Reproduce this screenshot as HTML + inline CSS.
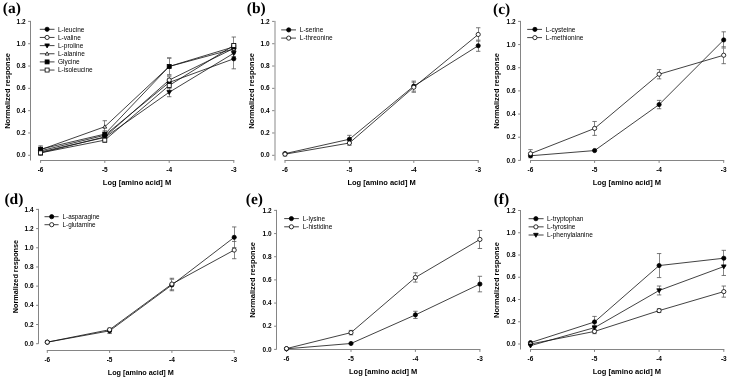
<!DOCTYPE html>
<html><head><meta charset="utf-8"><style>
html,body{margin:0;padding:0;background:#fff;width:729px;height:378px;overflow:hidden}
svg{display:block;will-change:transform}
text{font-family:'Liberation Sans', sans-serif}
.tk{font-size:6.5px;font-weight:bold}
.lg{font-size:6.5px}
.xl{font-size:7.5px;font-weight:bold}
.pl{font-family:'Liberation Serif', serif;font-size:15.5px;font-weight:bold;text-rendering:geometricPrecision}
</style></head><body>
<svg width="729" height="378" viewBox="0 0 729 378">
<rect width="729" height="378" fill="#fff"/>
<g id="pa"><line x1="30.5" y1="20.90" x2="30.5" y2="160.50" stroke="#858585" stroke-width="1"/><line x1="28.10" y1="155.30" x2="30.5" y2="155.30" stroke="#858585" stroke-width="1"/><text class="tk" x="25.60" y="157.40" text-anchor="end">0.0</text><line x1="28.10" y1="132.98" x2="30.5" y2="132.98" stroke="#858585" stroke-width="1"/><text class="tk" x="25.60" y="135.08" text-anchor="end">0.2</text><line x1="28.10" y1="110.67" x2="30.5" y2="110.67" stroke="#858585" stroke-width="1"/><text class="tk" x="25.60" y="112.77" text-anchor="end">0.4</text><line x1="28.10" y1="88.35" x2="30.5" y2="88.35" stroke="#858585" stroke-width="1"/><text class="tk" x="25.60" y="90.45" text-anchor="end">0.6</text><line x1="28.10" y1="66.03" x2="30.5" y2="66.03" stroke="#858585" stroke-width="1"/><text class="tk" x="25.60" y="68.13" text-anchor="end">0.8</text><line x1="28.10" y1="43.72" x2="30.5" y2="43.72" stroke="#858585" stroke-width="1"/><text class="tk" x="25.60" y="45.82" text-anchor="end">1.0</text><line x1="28.10" y1="21.40" x2="30.5" y2="21.40" stroke="#858585" stroke-width="1"/><text class="tk" x="25.60" y="23.50" text-anchor="end">1.2</text><line x1="40.10" y1="160.5" x2="234.30" y2="160.5" stroke="#858585" stroke-width="1"/><line x1="40.6" y1="160.5" x2="40.6" y2="162.90" stroke="#858585" stroke-width="1"/><text class="tk" x="40.60" y="171.70" text-anchor="middle">-6</text><line x1="104.8" y1="160.5" x2="104.8" y2="162.90" stroke="#858585" stroke-width="1"/><text class="tk" x="104.80" y="171.70" text-anchor="middle">-5</text><line x1="169.2" y1="160.5" x2="169.2" y2="162.90" stroke="#858585" stroke-width="1"/><text class="tk" x="169.20" y="171.70" text-anchor="middle">-4</text><line x1="233.8" y1="160.5" x2="233.8" y2="162.90" stroke="#858585" stroke-width="1"/><text class="tk" x="233.80" y="171.70" text-anchor="middle">-3</text><text class="xl" x="137.00" y="185.40" text-anchor="middle">Log [amino acid] M</text><text class="xl" transform="translate(9.70,90.95) rotate(-90)" text-anchor="middle">Normalized response</text><text class="pl" x="2.8" y="12.5">(a)</text><polyline points="40.60,150.84 104.80,135.22 169.20,82.44 233.80,58.78" fill="none" stroke="#111" stroke-width="0.8"/><polyline points="40.60,152.85 104.80,136.89 169.20,80.09 233.80,48.40" fill="none" stroke="#111" stroke-width="0.8"/><polyline points="40.60,151.95 104.80,137.45 169.20,92.26 233.80,53.20" fill="none" stroke="#111" stroke-width="0.8"/><polyline points="40.60,149.72 104.80,126.73 169.20,66.48 233.80,48.96" fill="none" stroke="#111" stroke-width="0.8"/><polyline points="40.60,149.16 104.80,134.10 169.20,66.48 233.80,46.84" fill="none" stroke="#111" stroke-width="0.8"/><polyline points="40.60,152.85 104.80,140.12 169.20,85.45 233.80,45.39" fill="none" stroke="#111" stroke-width="0.8"/><path d="M40.50,148.61V153.07" stroke="#888" stroke-width="1" fill="none"/><path d="M38.40,148.61H42.80M38.40,153.07H42.80" stroke="#555" stroke-width="0.8" fill="none"/><path d="M104.50,132.98V137.45" stroke="#888" stroke-width="1" fill="none"/><path d="M102.60,132.98H107.00M102.60,137.45H107.00" stroke="#555" stroke-width="0.8" fill="none"/><path d="M169.50,79.09V85.78" stroke="#888" stroke-width="1" fill="none"/><path d="M167.00,79.09H171.40M167.00,85.78H171.40" stroke="#555" stroke-width="0.8" fill="none"/><path d="M233.50,48.74V68.82" stroke="#888" stroke-width="1" fill="none"/><path d="M231.60,48.74H236.00M231.60,68.82H236.00" stroke="#555" stroke-width="0.8" fill="none"/><path d="M40.50,150.61V155.08" stroke="#888" stroke-width="1" fill="none"/><path d="M38.40,150.61H42.80M38.40,155.08H42.80" stroke="#555" stroke-width="0.8" fill="none"/><path d="M104.50,134.66V139.12" stroke="#888" stroke-width="1" fill="none"/><path d="M102.60,134.66H107.00M102.60,139.12H107.00" stroke="#555" stroke-width="0.8" fill="none"/><path d="M169.50,76.75V83.44" stroke="#888" stroke-width="1" fill="none"/><path d="M167.00,76.75H171.40M167.00,83.44H171.40" stroke="#555" stroke-width="0.8" fill="none"/><path d="M233.50,45.06V51.75" stroke="#888" stroke-width="1" fill="none"/><path d="M231.60,45.06H236.00M231.60,51.75H236.00" stroke="#555" stroke-width="0.8" fill="none"/><path d="M40.50,149.72V154.18" stroke="#888" stroke-width="1" fill="none"/><path d="M38.40,149.72H42.80M38.40,154.18H42.80" stroke="#555" stroke-width="0.8" fill="none"/><path d="M104.50,135.22V139.68" stroke="#888" stroke-width="1" fill="none"/><path d="M102.60,135.22H107.00M102.60,139.68H107.00" stroke="#555" stroke-width="0.8" fill="none"/><path d="M169.50,87.79V96.72" stroke="#888" stroke-width="1" fill="none"/><path d="M167.00,87.79H171.40M167.00,96.72H171.40" stroke="#555" stroke-width="0.8" fill="none"/><path d="M233.50,49.85V56.55" stroke="#888" stroke-width="1" fill="none"/><path d="M231.60,49.85H236.00M231.60,56.55H236.00" stroke="#555" stroke-width="0.8" fill="none"/><path d="M40.50,147.49V151.95" stroke="#888" stroke-width="1" fill="none"/><path d="M38.40,147.49H42.80M38.40,151.95H42.80" stroke="#555" stroke-width="0.8" fill="none"/><path d="M104.50,120.71V132.76" stroke="#888" stroke-width="1" fill="none"/><path d="M102.60,120.71H107.00M102.60,132.76H107.00" stroke="#555" stroke-width="0.8" fill="none"/><path d="M169.50,58.00V74.96" stroke="#888" stroke-width="1" fill="none"/><path d="M167.00,58.00H171.40M167.00,74.96H171.40" stroke="#555" stroke-width="0.8" fill="none"/><path d="M233.50,45.61V52.31" stroke="#888" stroke-width="1" fill="none"/><path d="M231.60,45.61H236.00M231.60,52.31H236.00" stroke="#555" stroke-width="0.8" fill="none"/><path d="M40.50,145.82V152.51" stroke="#888" stroke-width="1" fill="none"/><path d="M38.40,145.82H42.80M38.40,152.51H42.80" stroke="#555" stroke-width="0.8" fill="none"/><path d="M104.50,130.75V137.45" stroke="#888" stroke-width="1" fill="none"/><path d="M102.60,130.75H107.00M102.60,137.45H107.00" stroke="#555" stroke-width="0.8" fill="none"/><path d="M169.50,58.00V74.96" stroke="#888" stroke-width="1" fill="none"/><path d="M167.00,58.00H171.40M167.00,74.96H171.40" stroke="#555" stroke-width="0.8" fill="none"/><path d="M233.50,43.49V50.19" stroke="#888" stroke-width="1" fill="none"/><path d="M231.60,43.49H236.00M231.60,50.19H236.00" stroke="#555" stroke-width="0.8" fill="none"/><path d="M40.50,150.61V155.08" stroke="#888" stroke-width="1" fill="none"/><path d="M38.40,150.61H42.80M38.40,155.08H42.80" stroke="#555" stroke-width="0.8" fill="none"/><path d="M104.50,137.89V142.36" stroke="#888" stroke-width="1" fill="none"/><path d="M102.60,137.89H107.00M102.60,142.36H107.00" stroke="#555" stroke-width="0.8" fill="none"/><path d="M169.50,82.10V88.80" stroke="#888" stroke-width="1" fill="none"/><path d="M167.00,82.10H171.40M167.00,88.80H171.40" stroke="#555" stroke-width="0.8" fill="none"/><path d="M233.50,37.02V53.76" stroke="#888" stroke-width="1" fill="none"/><path d="M231.60,37.02H236.00M231.60,53.76H236.00" stroke="#555" stroke-width="0.8" fill="none"/><circle cx="40.60" cy="150.84" r="2.10" fill="#000" stroke="#000" stroke-width="0.8"/><circle cx="104.80" cy="135.22" r="2.10" fill="#000" stroke="#000" stroke-width="0.8"/><circle cx="169.20" cy="82.44" r="2.10" fill="#000" stroke="#000" stroke-width="0.8"/><circle cx="233.80" cy="58.78" r="2.10" fill="#000" stroke="#000" stroke-width="0.8"/><circle cx="40.60" cy="152.85" r="2.10" fill="#fff" stroke="#000" stroke-width="0.8"/><circle cx="104.80" cy="136.89" r="2.10" fill="#fff" stroke="#000" stroke-width="0.8"/><circle cx="169.20" cy="80.09" r="2.10" fill="#fff" stroke="#000" stroke-width="0.8"/><circle cx="233.80" cy="48.40" r="2.10" fill="#fff" stroke="#000" stroke-width="0.8"/><polygon points="38.29,150.27 42.91,150.27 40.60,154.26" fill="#000" stroke="#000" stroke-width="0.8"/><polygon points="102.49,135.77 107.11,135.77 104.80,139.76" fill="#000" stroke="#000" stroke-width="0.8"/><polygon points="166.89,90.58 171.51,90.58 169.20,94.57" fill="#000" stroke="#000" stroke-width="0.8"/><polygon points="231.49,51.52 236.11,51.52 233.80,55.51" fill="#000" stroke="#000" stroke-width="0.8"/><polygon points="38.71,151.09 42.49,151.09 40.60,147.83" fill="#fff" stroke="#000" stroke-width="0.8"/><polygon points="102.91,128.10 106.69,128.10 104.80,124.84" fill="#fff" stroke="#000" stroke-width="0.8"/><polygon points="167.31,67.84 171.09,67.84 169.20,64.59" fill="#fff" stroke="#000" stroke-width="0.8"/><polygon points="231.91,50.33 235.69,50.33 233.80,47.07" fill="#fff" stroke="#000" stroke-width="0.8"/><rect x="38.61" y="147.17" width="3.99" height="3.99" fill="#000" stroke="#000" stroke-width="0.8"/><rect x="102.80" y="132.10" width="3.99" height="3.99" fill="#000" stroke="#000" stroke-width="0.8"/><rect x="167.20" y="64.48" width="3.99" height="3.99" fill="#000" stroke="#000" stroke-width="0.8"/><rect x="231.81" y="44.85" width="3.99" height="3.99" fill="#000" stroke="#000" stroke-width="0.8"/><rect x="38.61" y="150.85" width="3.99" height="3.99" fill="#fff" stroke="#000" stroke-width="0.8"/><rect x="102.80" y="138.13" width="3.99" height="3.99" fill="#fff" stroke="#000" stroke-width="0.8"/><rect x="167.20" y="83.45" width="3.99" height="3.99" fill="#fff" stroke="#000" stroke-width="0.8"/><rect x="231.81" y="43.40" width="3.99" height="3.99" fill="#fff" stroke="#000" stroke-width="0.8"/><line x1="39.8" y1="29.30" x2="54.5" y2="29.30" stroke="#111" stroke-width="0.8"/><circle cx="47.10" cy="29.30" r="2.10" fill="#000" stroke="#000" stroke-width="0.8"/><text class="lg" x="58.0" y="31.60">L-leucine</text><line x1="39.8" y1="37.45" x2="54.5" y2="37.45" stroke="#111" stroke-width="0.8"/><circle cx="47.10" cy="37.45" r="2.10" fill="#fff" stroke="#000" stroke-width="0.8"/><text class="lg" x="58.0" y="39.75">L-valine</text><line x1="39.8" y1="45.60" x2="54.5" y2="45.60" stroke="#111" stroke-width="0.8"/><polygon points="44.79,43.92 49.41,43.92 47.10,47.91" fill="#000" stroke="#000" stroke-width="0.8"/><text class="lg" x="58.0" y="47.90">L-proline</text><line x1="39.8" y1="53.75" x2="54.5" y2="53.75" stroke="#111" stroke-width="0.8"/><polygon points="45.21,55.12 48.99,55.12 47.10,51.86" fill="#fff" stroke="#000" stroke-width="0.8"/><text class="lg" x="58.0" y="56.05">L-alanine</text><line x1="39.8" y1="61.90" x2="54.5" y2="61.90" stroke="#111" stroke-width="0.8"/><rect x="45.11" y="59.91" width="3.99" height="3.99" fill="#000" stroke="#000" stroke-width="0.8"/><text class="lg" x="58.0" y="64.20">Glycine</text><line x1="39.8" y1="70.05" x2="54.5" y2="70.05" stroke="#111" stroke-width="0.8"/><rect x="45.11" y="68.05" width="3.99" height="3.99" fill="#fff" stroke="#000" stroke-width="0.8"/><text class="lg" x="58.0" y="72.35">L-isoleucine</text></g>
<g id="pb"><rect x="274" y="20.90" width="2" height="139.60" fill="#c4c4c4"/><line x1="272.10" y1="155.30" x2="274.5" y2="155.30" stroke="#858585" stroke-width="1"/><text class="tk" x="269.60" y="157.40" text-anchor="end">0.0</text><line x1="272.10" y1="132.98" x2="274.5" y2="132.98" stroke="#858585" stroke-width="1"/><text class="tk" x="269.60" y="135.08" text-anchor="end">0.2</text><line x1="272.10" y1="110.67" x2="274.5" y2="110.67" stroke="#858585" stroke-width="1"/><text class="tk" x="269.60" y="112.77" text-anchor="end">0.4</text><line x1="272.10" y1="88.35" x2="274.5" y2="88.35" stroke="#858585" stroke-width="1"/><text class="tk" x="269.60" y="90.45" text-anchor="end">0.6</text><line x1="272.10" y1="66.03" x2="274.5" y2="66.03" stroke="#858585" stroke-width="1"/><text class="tk" x="269.60" y="68.13" text-anchor="end">0.8</text><line x1="272.10" y1="43.72" x2="274.5" y2="43.72" stroke="#858585" stroke-width="1"/><text class="tk" x="269.60" y="45.82" text-anchor="end">1.0</text><line x1="272.10" y1="21.40" x2="274.5" y2="21.40" stroke="#858585" stroke-width="1"/><text class="tk" x="269.60" y="23.50" text-anchor="end">1.2</text><line x1="284.50" y1="160.5" x2="478.70" y2="160.5" stroke="#858585" stroke-width="1"/><line x1="285.0" y1="160.5" x2="285.0" y2="162.90" stroke="#858585" stroke-width="1"/><text class="tk" x="285.00" y="171.70" text-anchor="middle">-6</text><line x1="349.4" y1="160.5" x2="349.4" y2="162.90" stroke="#858585" stroke-width="1"/><text class="tk" x="349.40" y="171.70" text-anchor="middle">-5</text><line x1="413.8" y1="160.5" x2="413.8" y2="162.90" stroke="#858585" stroke-width="1"/><text class="tk" x="413.80" y="171.70" text-anchor="middle">-4</text><line x1="478.2" y1="160.5" x2="478.2" y2="162.90" stroke="#858585" stroke-width="1"/><text class="tk" x="478.20" y="171.70" text-anchor="middle">-3</text><text class="xl" x="381.60" y="185.40" text-anchor="middle">Log [amino acid] M</text><text class="xl" transform="translate(253.70,90.95) rotate(-90)" text-anchor="middle">Normalized response</text><text class="pl" x="246.8" y="13.4">(b)</text><polyline points="285.00,153.63 349.40,139.23 413.80,86.12 478.20,45.73" fill="none" stroke="#111" stroke-width="0.8"/><polyline points="285.00,154.18 349.40,143.03 413.80,87.23 478.20,34.46" fill="none" stroke="#111" stroke-width="0.8"/><path d="M349.50,135.33V143.14" stroke="#888" stroke-width="1" fill="none"/><path d="M347.20,135.33H351.60M347.20,143.14H351.60" stroke="#555" stroke-width="0.8" fill="none"/><path d="M413.50,81.10V91.14" stroke="#888" stroke-width="1" fill="none"/><path d="M411.60,81.10H416.00M411.60,91.14H416.00" stroke="#555" stroke-width="0.8" fill="none"/><path d="M478.50,40.15V51.30" stroke="#888" stroke-width="1" fill="none"/><path d="M476.00,40.15H480.40M476.00,51.30H480.40" stroke="#555" stroke-width="0.8" fill="none"/><path d="M284.50,152.40V155.97" stroke="#888" stroke-width="1" fill="none"/><path d="M282.80,152.40H287.20M282.80,155.97H287.20" stroke="#555" stroke-width="0.8" fill="none"/><path d="M349.50,140.79V145.26" stroke="#888" stroke-width="1" fill="none"/><path d="M347.20,140.79H351.60M347.20,145.26H351.60" stroke="#555" stroke-width="0.8" fill="none"/><path d="M413.50,82.21V92.26" stroke="#888" stroke-width="1" fill="none"/><path d="M411.60,82.21H416.00M411.60,92.26H416.00" stroke="#555" stroke-width="0.8" fill="none"/><path d="M478.50,27.76V41.15" stroke="#888" stroke-width="1" fill="none"/><path d="M476.00,27.76H480.40M476.00,41.15H480.40" stroke="#555" stroke-width="0.8" fill="none"/><circle cx="285.00" cy="153.63" r="2.10" fill="#000" stroke="#000" stroke-width="0.8"/><circle cx="349.40" cy="139.23" r="2.10" fill="#000" stroke="#000" stroke-width="0.8"/><circle cx="413.80" cy="86.12" r="2.10" fill="#000" stroke="#000" stroke-width="0.8"/><circle cx="478.20" cy="45.73" r="2.10" fill="#000" stroke="#000" stroke-width="0.8"/><circle cx="285.00" cy="154.18" r="2.10" fill="#fff" stroke="#000" stroke-width="0.8"/><circle cx="349.40" cy="143.03" r="2.10" fill="#fff" stroke="#000" stroke-width="0.8"/><circle cx="413.80" cy="87.23" r="2.10" fill="#fff" stroke="#000" stroke-width="0.8"/><circle cx="478.20" cy="34.46" r="2.10" fill="#fff" stroke="#000" stroke-width="0.8"/><line x1="281.2" y1="29.90" x2="296.0" y2="29.90" stroke="#111" stroke-width="0.8"/><circle cx="288.70" cy="29.90" r="2.10" fill="#000" stroke="#000" stroke-width="0.8"/><text class="lg" x="299.8" y="32.20">L-serine</text><line x1="281.2" y1="38.10" x2="296.0" y2="38.10" stroke="#111" stroke-width="0.8"/><circle cx="288.70" cy="38.10" r="2.10" fill="#fff" stroke="#000" stroke-width="0.8"/><text class="lg" x="299.8" y="40.40">L-threonine</text></g>
<g id="pc"><line x1="520.5" y1="20.90" x2="520.5" y2="160.50" stroke="#858585" stroke-width="1"/><line x1="518.10" y1="160.40" x2="520.5" y2="160.40" stroke="#858585" stroke-width="1"/><text class="tk" x="515.60" y="162.50" text-anchor="end">0.0</text><line x1="518.10" y1="137.23" x2="520.5" y2="137.23" stroke="#858585" stroke-width="1"/><text class="tk" x="515.60" y="139.33" text-anchor="end">0.2</text><line x1="518.10" y1="114.07" x2="520.5" y2="114.07" stroke="#858585" stroke-width="1"/><text class="tk" x="515.60" y="116.17" text-anchor="end">0.4</text><line x1="518.10" y1="90.90" x2="520.5" y2="90.90" stroke="#858585" stroke-width="1"/><text class="tk" x="515.60" y="93.00" text-anchor="end">0.6</text><line x1="518.10" y1="67.73" x2="520.5" y2="67.73" stroke="#858585" stroke-width="1"/><text class="tk" x="515.60" y="69.83" text-anchor="end">0.8</text><line x1="518.10" y1="44.57" x2="520.5" y2="44.57" stroke="#858585" stroke-width="1"/><text class="tk" x="515.60" y="46.67" text-anchor="end">1.0</text><line x1="518.10" y1="21.40" x2="520.5" y2="21.40" stroke="#858585" stroke-width="1"/><text class="tk" x="515.60" y="23.50" text-anchor="end">1.2</text><line x1="530.00" y1="160.5" x2="724.20" y2="160.5" stroke="#858585" stroke-width="1"/><line x1="530.5" y1="160.5" x2="530.5" y2="162.90" stroke="#858585" stroke-width="1"/><text class="tk" x="530.50" y="171.70" text-anchor="middle">-6</text><line x1="594.6" y1="160.5" x2="594.6" y2="162.90" stroke="#858585" stroke-width="1"/><text class="tk" x="594.60" y="171.70" text-anchor="middle">-5</text><line x1="659.1" y1="160.5" x2="659.1" y2="162.90" stroke="#858585" stroke-width="1"/><text class="tk" x="659.10" y="171.70" text-anchor="middle">-4</text><line x1="723.7" y1="160.5" x2="723.7" y2="162.90" stroke="#858585" stroke-width="1"/><text class="tk" x="723.70" y="171.70" text-anchor="middle">-3</text><text class="xl" x="626.85" y="185.40" text-anchor="middle">Log [amino acid] M</text><text class="xl" transform="translate(499.20,90.95) rotate(-90)" text-anchor="middle">Normalized response</text><text class="pl" x="493.0" y="14.4">(c)</text><polyline points="530.50,155.77 594.60,150.55 659.10,104.57 723.70,39.93" fill="none" stroke="#111" stroke-width="0.8"/><polyline points="530.50,153.68 594.60,128.43 659.10,74.22 723.70,55.22" fill="none" stroke="#111" stroke-width="0.8"/><path d="M659.50,100.40V108.74" stroke="#888" stroke-width="1" fill="none"/><path d="M656.90,100.40H661.30M656.90,108.74H661.30" stroke="#555" stroke-width="0.8" fill="none"/><path d="M723.50,31.82V48.04" stroke="#888" stroke-width="1" fill="none"/><path d="M721.50,31.82H725.90M721.50,48.04H725.90" stroke="#555" stroke-width="0.8" fill="none"/><path d="M530.50,149.63V157.74" stroke="#888" stroke-width="1" fill="none"/><path d="M528.30,149.63H532.70M528.30,157.74H532.70" stroke="#555" stroke-width="0.8" fill="none"/><path d="M594.50,121.48V135.38" stroke="#888" stroke-width="1" fill="none"/><path d="M592.40,121.48H596.80M592.40,135.38H596.80" stroke="#555" stroke-width="0.8" fill="none"/><path d="M659.50,69.59V78.85" stroke="#888" stroke-width="1" fill="none"/><path d="M656.90,69.59H661.30M656.90,78.85H661.30" stroke="#555" stroke-width="0.8" fill="none"/><path d="M723.50,46.77V63.68" stroke="#888" stroke-width="1" fill="none"/><path d="M721.50,46.77H725.90M721.50,63.68H725.90" stroke="#555" stroke-width="0.8" fill="none"/><circle cx="530.50" cy="155.77" r="2.10" fill="#000" stroke="#000" stroke-width="0.8"/><circle cx="594.60" cy="150.55" r="2.10" fill="#000" stroke="#000" stroke-width="0.8"/><circle cx="659.10" cy="104.57" r="2.10" fill="#000" stroke="#000" stroke-width="0.8"/><circle cx="723.70" cy="39.93" r="2.10" fill="#000" stroke="#000" stroke-width="0.8"/><circle cx="530.50" cy="153.68" r="2.10" fill="#fff" stroke="#000" stroke-width="0.8"/><circle cx="594.60" cy="128.43" r="2.10" fill="#fff" stroke="#000" stroke-width="0.8"/><circle cx="659.10" cy="74.22" r="2.10" fill="#fff" stroke="#000" stroke-width="0.8"/><circle cx="723.70" cy="55.22" r="2.10" fill="#fff" stroke="#000" stroke-width="0.8"/><line x1="527.2" y1="29.40" x2="542.0" y2="29.40" stroke="#111" stroke-width="0.8"/><circle cx="534.90" cy="29.40" r="2.10" fill="#000" stroke="#000" stroke-width="0.8"/><text class="lg" x="545.8" y="31.70">L-cysteine</text><line x1="527.2" y1="37.60" x2="542.0" y2="37.60" stroke="#111" stroke-width="0.8"/><circle cx="534.90" cy="37.60" r="2.10" fill="#fff" stroke="#000" stroke-width="0.8"/><text class="lg" x="545.8" y="39.90">L-methionine</text></g>
<g id="pd"><line x1="38.5" y1="208.90" x2="38.5" y2="343.80" stroke="#858585" stroke-width="1"/><line x1="36.10" y1="343.70" x2="38.5" y2="343.70" stroke="#858585" stroke-width="1"/><text class="tk" x="33.60" y="345.80" text-anchor="end">0.0</text><line x1="36.10" y1="324.51" x2="38.5" y2="324.51" stroke="#858585" stroke-width="1"/><text class="tk" x="33.60" y="326.61" text-anchor="end">0.2</text><line x1="36.10" y1="305.33" x2="38.5" y2="305.33" stroke="#858585" stroke-width="1"/><text class="tk" x="33.60" y="307.43" text-anchor="end">0.4</text><line x1="36.10" y1="286.14" x2="38.5" y2="286.14" stroke="#858585" stroke-width="1"/><text class="tk" x="33.60" y="288.24" text-anchor="end">0.6</text><line x1="36.10" y1="266.96" x2="38.5" y2="266.96" stroke="#858585" stroke-width="1"/><text class="tk" x="33.60" y="269.06" text-anchor="end">0.8</text><line x1="36.10" y1="247.77" x2="38.5" y2="247.77" stroke="#858585" stroke-width="1"/><text class="tk" x="33.60" y="249.87" text-anchor="end">1.0</text><line x1="36.10" y1="228.59" x2="38.5" y2="228.59" stroke="#858585" stroke-width="1"/><text class="tk" x="33.60" y="230.69" text-anchor="end">1.2</text><line x1="36.10" y1="209.40" x2="38.5" y2="209.40" stroke="#858585" stroke-width="1"/><text class="tk" x="33.60" y="211.50" text-anchor="end">1.4</text><line x1="46.80" y1="350.5" x2="234.70" y2="350.5" stroke="#858585" stroke-width="1"/><line x1="47.3" y1="350.5" x2="47.3" y2="352.90" stroke="#858585" stroke-width="1"/><text class="tk" x="47.30" y="361.70" text-anchor="middle">-6</text><line x1="109.6" y1="350.5" x2="109.6" y2="352.90" stroke="#858585" stroke-width="1"/><text class="tk" x="109.60" y="361.70" text-anchor="middle">-5</text><line x1="171.9" y1="350.5" x2="171.9" y2="352.90" stroke="#858585" stroke-width="1"/><text class="tk" x="171.90" y="361.70" text-anchor="middle">-4</text><line x1="234.2" y1="350.5" x2="234.2" y2="352.90" stroke="#858585" stroke-width="1"/><text class="tk" x="234.20" y="361.70" text-anchor="middle">-3</text><text class="xl" style="font-size:7.25px" x="140.75" y="375.40" text-anchor="middle">Log [amino acid] M</text><text class="xl" transform="translate(17.70,276.60) rotate(-90)" text-anchor="middle" style="font-size:7.25px">Normalized response</text><text class="pl" x="4.4" y="203.9">(d)</text><polyline points="47.30,342.17 109.60,330.85 171.90,284.99 234.20,237.32" fill="none" stroke="#111" stroke-width="0.8"/><polyline points="47.30,342.17 109.60,329.69 171.90,284.03 234.20,250.07" fill="none" stroke="#111" stroke-width="0.8"/><path d="M109.50,328.16V333.53" stroke="#888" stroke-width="1" fill="none"/><path d="M107.40,328.16H111.80M107.40,333.53H111.80" stroke="#555" stroke-width="0.8" fill="none"/><path d="M171.50,279.24V290.75" stroke="#888" stroke-width="1" fill="none"/><path d="M169.70,279.24H174.10M169.70,290.75H174.10" stroke="#555" stroke-width="0.8" fill="none"/><path d="M234.50,226.95V247.68" stroke="#888" stroke-width="1" fill="none"/><path d="M232.00,226.95H236.40M232.00,247.68H236.40" stroke="#555" stroke-width="0.8" fill="none"/><path d="M171.50,278.28V289.79" stroke="#888" stroke-width="1" fill="none"/><path d="M169.70,278.28H174.10M169.70,289.79H174.10" stroke="#555" stroke-width="0.8" fill="none"/><path d="M234.50,241.44V258.71" stroke="#888" stroke-width="1" fill="none"/><path d="M232.00,241.44H236.40M232.00,258.71H236.40" stroke="#555" stroke-width="0.8" fill="none"/><circle cx="47.30" cy="342.17" r="2.10" fill="#000" stroke="#000" stroke-width="0.8"/><circle cx="109.60" cy="330.85" r="2.10" fill="#000" stroke="#000" stroke-width="0.8"/><circle cx="171.90" cy="284.99" r="2.10" fill="#000" stroke="#000" stroke-width="0.8"/><circle cx="234.20" cy="237.32" r="2.10" fill="#000" stroke="#000" stroke-width="0.8"/><circle cx="47.30" cy="342.17" r="2.10" fill="#fff" stroke="#000" stroke-width="0.8"/><circle cx="109.60" cy="329.69" r="2.10" fill="#fff" stroke="#000" stroke-width="0.8"/><circle cx="171.90" cy="284.03" r="2.10" fill="#fff" stroke="#000" stroke-width="0.8"/><circle cx="234.20" cy="250.07" r="2.10" fill="#fff" stroke="#000" stroke-width="0.8"/><line x1="44.5" y1="216.70" x2="58.6" y2="216.70" stroke="#111" stroke-width="0.8"/><circle cx="51.70" cy="216.70" r="2.10" fill="#000" stroke="#000" stroke-width="0.8"/><text class="lg" style="font-size:6.35px" x="62.5" y="219.00">L-asparagine</text><line x1="44.5" y1="224.70" x2="58.6" y2="224.70" stroke="#111" stroke-width="0.8"/><circle cx="51.70" cy="224.70" r="2.10" fill="#fff" stroke="#000" stroke-width="0.8"/><text class="lg" style="font-size:6.35px" x="62.5" y="227.00">L-glutamine</text></g>
<g id="pe"><line x1="276.5" y1="209.90" x2="276.5" y2="349.50" stroke="#858585" stroke-width="1"/><line x1="274.10" y1="349.40" x2="276.5" y2="349.40" stroke="#858585" stroke-width="1"/><text class="tk" x="271.60" y="351.50" text-anchor="end">0.0</text><line x1="274.10" y1="326.23" x2="276.5" y2="326.23" stroke="#858585" stroke-width="1"/><text class="tk" x="271.60" y="328.33" text-anchor="end">0.2</text><line x1="274.10" y1="303.07" x2="276.5" y2="303.07" stroke="#858585" stroke-width="1"/><text class="tk" x="271.60" y="305.17" text-anchor="end">0.4</text><line x1="274.10" y1="279.90" x2="276.5" y2="279.90" stroke="#858585" stroke-width="1"/><text class="tk" x="271.60" y="282.00" text-anchor="end">0.6</text><line x1="274.10" y1="256.73" x2="276.5" y2="256.73" stroke="#858585" stroke-width="1"/><text class="tk" x="271.60" y="258.83" text-anchor="end">0.8</text><line x1="274.10" y1="233.57" x2="276.5" y2="233.57" stroke="#858585" stroke-width="1"/><text class="tk" x="271.60" y="235.67" text-anchor="end">1.0</text><line x1="274.10" y1="210.40" x2="276.5" y2="210.40" stroke="#858585" stroke-width="1"/><text class="tk" x="271.60" y="212.50" text-anchor="end">1.2</text><line x1="286.00" y1="349.5" x2="480.40" y2="349.5" stroke="#858585" stroke-width="1"/><line x1="286.5" y1="349.5" x2="286.5" y2="351.90" stroke="#858585" stroke-width="1"/><text class="tk" x="286.50" y="360.70" text-anchor="middle">-6</text><line x1="351.0" y1="349.5" x2="351.0" y2="351.90" stroke="#858585" stroke-width="1"/><text class="tk" x="351.00" y="360.70" text-anchor="middle">-5</text><line x1="415.4" y1="349.5" x2="415.4" y2="351.90" stroke="#858585" stroke-width="1"/><text class="tk" x="415.40" y="360.70" text-anchor="middle">-4</text><line x1="479.9" y1="349.5" x2="479.9" y2="351.90" stroke="#858585" stroke-width="1"/><text class="tk" x="479.90" y="360.70" text-anchor="middle">-3</text><text class="xl" x="383.20" y="374.40" text-anchor="middle">Log [amino acid] M</text><text class="xl" transform="translate(255.20,279.95) rotate(-90)" text-anchor="middle">Normalized response</text><text class="pl" x="245.8" y="203.5">(e)</text><polyline points="286.50,348.82 351.00,343.49 415.40,314.88 479.90,284.07" fill="none" stroke="#111" stroke-width="0.8"/><polyline points="286.50,348.59 351.00,332.60 415.40,277.47 479.90,239.47" fill="none" stroke="#111" stroke-width="0.8"/><path d="M415.50,311.29V318.47" stroke="#888" stroke-width="1" fill="none"/><path d="M413.20,311.29H417.60M413.20,318.47H417.60" stroke="#555" stroke-width="0.8" fill="none"/><path d="M479.50,276.31V291.83" stroke="#888" stroke-width="1" fill="none"/><path d="M477.70,276.31H482.10M477.70,291.83H482.10" stroke="#555" stroke-width="0.8" fill="none"/><path d="M350.50,330.40V334.81" stroke="#888" stroke-width="1" fill="none"/><path d="M348.80,330.40H353.20M348.80,334.81H353.20" stroke="#555" stroke-width="0.8" fill="none"/><path d="M415.50,272.83V282.10" stroke="#888" stroke-width="1" fill="none"/><path d="M413.20,272.83H417.60M413.20,282.10H417.60" stroke="#555" stroke-width="0.8" fill="none"/><path d="M479.50,230.44V248.51" stroke="#888" stroke-width="1" fill="none"/><path d="M477.70,230.44H482.10M477.70,248.51H482.10" stroke="#555" stroke-width="0.8" fill="none"/><circle cx="286.50" cy="348.82" r="2.10" fill="#000" stroke="#000" stroke-width="0.8"/><circle cx="351.00" cy="343.49" r="2.10" fill="#000" stroke="#000" stroke-width="0.8"/><circle cx="415.40" cy="314.88" r="2.10" fill="#000" stroke="#000" stroke-width="0.8"/><circle cx="479.90" cy="284.07" r="2.10" fill="#000" stroke="#000" stroke-width="0.8"/><circle cx="286.50" cy="348.59" r="2.10" fill="#fff" stroke="#000" stroke-width="0.8"/><circle cx="351.00" cy="332.60" r="2.10" fill="#fff" stroke="#000" stroke-width="0.8"/><circle cx="415.40" cy="277.47" r="2.10" fill="#fff" stroke="#000" stroke-width="0.8"/><circle cx="479.90" cy="239.47" r="2.10" fill="#fff" stroke="#000" stroke-width="0.8"/><line x1="284.2" y1="218.60" x2="298.9" y2="218.60" stroke="#111" stroke-width="0.8"/><circle cx="291.40" cy="218.60" r="2.10" fill="#000" stroke="#000" stroke-width="0.8"/><text class="lg" x="302.7" y="220.90">L-lysine</text><line x1="284.2" y1="226.80" x2="298.9" y2="226.80" stroke="#111" stroke-width="0.8"/><circle cx="291.40" cy="226.80" r="2.10" fill="#fff" stroke="#000" stroke-width="0.8"/><text class="lg" x="302.7" y="229.10">L-histidine</text></g>
<g id="pf"><line x1="520.5" y1="210.00" x2="520.5" y2="349.50" stroke="#858585" stroke-width="1"/><line x1="518.10" y1="344.00" x2="520.5" y2="344.00" stroke="#858585" stroke-width="1"/><text class="tk" x="515.60" y="346.10" text-anchor="end">0.0</text><line x1="518.10" y1="321.75" x2="520.5" y2="321.75" stroke="#858585" stroke-width="1"/><text class="tk" x="515.60" y="323.85" text-anchor="end">0.2</text><line x1="518.10" y1="299.50" x2="520.5" y2="299.50" stroke="#858585" stroke-width="1"/><text class="tk" x="515.60" y="301.60" text-anchor="end">0.4</text><line x1="518.10" y1="277.25" x2="520.5" y2="277.25" stroke="#858585" stroke-width="1"/><text class="tk" x="515.60" y="279.35" text-anchor="end">0.6</text><line x1="518.10" y1="255.00" x2="520.5" y2="255.00" stroke="#858585" stroke-width="1"/><text class="tk" x="515.60" y="257.10" text-anchor="end">0.8</text><line x1="518.10" y1="232.75" x2="520.5" y2="232.75" stroke="#858585" stroke-width="1"/><text class="tk" x="515.60" y="234.85" text-anchor="end">1.0</text><line x1="518.10" y1="210.50" x2="520.5" y2="210.50" stroke="#858585" stroke-width="1"/><text class="tk" x="515.60" y="212.60" text-anchor="end">1.2</text><line x1="530.00" y1="349.5" x2="724.30" y2="349.5" stroke="#858585" stroke-width="1"/><line x1="530.5" y1="349.5" x2="530.5" y2="351.90" stroke="#858585" stroke-width="1"/><text class="tk" x="530.50" y="360.70" text-anchor="middle">-6</text><line x1="594.5" y1="349.5" x2="594.5" y2="351.90" stroke="#858585" stroke-width="1"/><text class="tk" x="594.50" y="360.70" text-anchor="middle">-5</text><line x1="659.1" y1="349.5" x2="659.1" y2="351.90" stroke="#858585" stroke-width="1"/><text class="tk" x="659.10" y="360.70" text-anchor="middle">-4</text><line x1="723.8" y1="349.5" x2="723.8" y2="351.90" stroke="#858585" stroke-width="1"/><text class="tk" x="723.80" y="360.70" text-anchor="middle">-3</text><text class="xl" x="626.80" y="374.40" text-anchor="middle">Log [amino acid] M</text><text class="xl" transform="translate(499.20,280.00) rotate(-90)" text-anchor="middle">Normalized response</text><text class="pl" x="493.7" y="203.6">(f)</text><polyline points="530.50,342.67 594.50,321.97 659.10,265.57 723.80,258.23" fill="none" stroke="#111" stroke-width="0.8"/><polyline points="530.50,344.00 594.50,331.43 659.10,310.62 723.80,291.60" fill="none" stroke="#111" stroke-width="0.8"/><polyline points="530.50,345.67 594.50,327.65 659.10,290.49 723.80,266.57" fill="none" stroke="#111" stroke-width="0.8"/><path d="M594.50,316.41V327.53" stroke="#888" stroke-width="1" fill="none"/><path d="M592.30,316.41H596.70M592.30,327.53H596.70" stroke="#555" stroke-width="0.8" fill="none"/><path d="M659.50,253.55V277.58" stroke="#888" stroke-width="1" fill="none"/><path d="M656.90,253.55H661.30M656.90,277.58H661.30" stroke="#555" stroke-width="0.8" fill="none"/><path d="M723.50,250.33V266.12" stroke="#888" stroke-width="1" fill="none"/><path d="M721.60,250.33H726.00M721.60,266.12H726.00" stroke="#555" stroke-width="0.8" fill="none"/><path d="M594.50,329.20V333.65" stroke="#888" stroke-width="1" fill="none"/><path d="M592.30,329.20H596.70M592.30,333.65H596.70" stroke="#555" stroke-width="0.8" fill="none"/><path d="M659.50,308.73V312.52" stroke="#888" stroke-width="1" fill="none"/><path d="M656.90,308.73H661.30M656.90,312.52H661.30" stroke="#555" stroke-width="0.8" fill="none"/><path d="M723.50,286.04V297.16" stroke="#888" stroke-width="1" fill="none"/><path d="M721.60,286.04H726.00M721.60,297.16H726.00" stroke="#555" stroke-width="0.8" fill="none"/><path d="M594.50,325.42V329.87" stroke="#888" stroke-width="1" fill="none"/><path d="M592.30,325.42H596.70M592.30,329.87H596.70" stroke="#555" stroke-width="0.8" fill="none"/><path d="M659.50,286.04V294.94" stroke="#888" stroke-width="1" fill="none"/><path d="M656.90,286.04H661.30M656.90,294.94H661.30" stroke="#555" stroke-width="0.8" fill="none"/><path d="M723.50,257.67V275.47" stroke="#888" stroke-width="1" fill="none"/><path d="M721.60,257.67H726.00M721.60,275.47H726.00" stroke="#555" stroke-width="0.8" fill="none"/><circle cx="530.50" cy="342.67" r="2.10" fill="#000" stroke="#000" stroke-width="0.8"/><circle cx="594.50" cy="321.97" r="2.10" fill="#000" stroke="#000" stroke-width="0.8"/><circle cx="659.10" cy="265.57" r="2.10" fill="#000" stroke="#000" stroke-width="0.8"/><circle cx="723.80" cy="258.23" r="2.10" fill="#000" stroke="#000" stroke-width="0.8"/><circle cx="530.50" cy="344.00" r="2.10" fill="#fff" stroke="#000" stroke-width="0.8"/><circle cx="594.50" cy="331.43" r="2.10" fill="#fff" stroke="#000" stroke-width="0.8"/><circle cx="659.10" cy="310.62" r="2.10" fill="#fff" stroke="#000" stroke-width="0.8"/><circle cx="723.80" cy="291.60" r="2.10" fill="#fff" stroke="#000" stroke-width="0.8"/><polygon points="528.19,343.99 532.81,343.99 530.50,347.98" fill="#000" stroke="#000" stroke-width="0.8"/><polygon points="592.19,325.97 596.81,325.97 594.50,329.96" fill="#000" stroke="#000" stroke-width="0.8"/><polygon points="656.79,288.81 661.41,288.81 659.10,292.80" fill="#000" stroke="#000" stroke-width="0.8"/><polygon points="721.49,264.89 726.11,264.89 723.80,268.88" fill="#000" stroke="#000" stroke-width="0.8"/><line x1="528.6" y1="218.70" x2="543.6" y2="218.70" stroke="#111" stroke-width="0.8"/><circle cx="535.90" cy="218.70" r="2.10" fill="#000" stroke="#000" stroke-width="0.8"/><text class="lg" x="546.9" y="221.00">L-tryptophan</text><line x1="528.6" y1="226.85" x2="543.6" y2="226.85" stroke="#111" stroke-width="0.8"/><circle cx="535.90" cy="226.85" r="2.10" fill="#fff" stroke="#000" stroke-width="0.8"/><text class="lg" x="546.9" y="229.15">L-tyrosine</text><line x1="528.6" y1="235.00" x2="543.6" y2="235.00" stroke="#111" stroke-width="0.8"/><polygon points="533.59,233.32 538.21,233.32 535.90,237.31" fill="#000" stroke="#000" stroke-width="0.8"/><text class="lg" x="546.9" y="237.30">L-phenylalanine</text></g>
</svg></body></html>
